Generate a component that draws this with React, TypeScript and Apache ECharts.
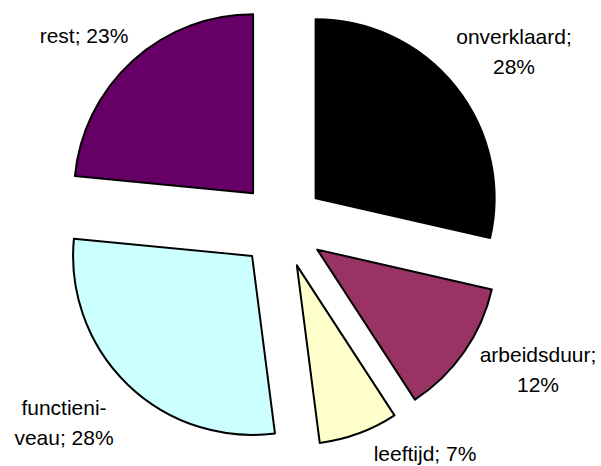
import React, { useEffect, useRef } from "react";
import * as echarts from "echarts";

// Data (clockwise from 12 o'clock)
const CATEGORIES = ["onverklaard", "arbeidsduur", "leeftijd", "functieniveau", "rest"];
const VALUES = [28, 12, 7, 28, 23];
const LABEL_NAMES = ["onverklaard", "arbeidsduur", "leeftijd", "functieni-\nveau", "rest"];
const LABEL_SEP = ["\n", "\n", " ", " ", " "];
const COLORS = ["#000000", "#993366", "#FFFFCC", "#CCFFFF", "#660066"];

// Label text-box centres (layout)
const LABEL_POS: [number, number][] = [
  [514, 51],
  [538, 369],
  [425, 453],
  [64, 422],
  [84, 35],
];

export default function App() {
  const ref = useRef<HTMLDivElement>(null);
  useEffect(() => {
    if (!ref.current) return;
    const chart = echarts.init(ref.current, undefined, { renderer: "svg" });
    chart.setOption({
      animation: false,
      backgroundColor: "#ffffff",
      graphic: CATEGORIES.map((_, i) => ({
        type: "text",
        x: LABEL_POS[i][0],
        y: LABEL_POS[i][1],
        silent: true,
        style: {
          text: `${LABEL_NAMES[i]};${LABEL_SEP[i]}${VALUES[i]}%`,
          align: "center",
          verticalAlign: "middle",
          fill: "#000000",
          fontFamily: "Liberation Sans, Arial, sans-serif",
          fontSize: 21,
          lineHeight: 30,
        },
      })),
      series: [
        {
          type: "pie",
          center: [282, 225],
          radius: 179,
          startAngle: 90,
          clockwise: true,
          selectedMode: "multiple",
          selectedOffset: 43,
          avoidLabelOverlap: false,
          emphasis: { disabled: true },
          itemStyle: { borderColor: "#000000", borderWidth: 2 },
          select: { itemStyle: { borderColor: "#000000", borderWidth: 2 } },
          labelLine: { show: false },
          label: { show: false },
          data: CATEGORIES.map((name, i) => ({
            name,
            value: VALUES[i],
            selected: true,
            itemStyle: { color: COLORS[i] },
            select: { itemStyle: { color: COLORS[i] } },
          })),
        },
      ],
    });
    return () => chart.dispose();
  }, []);
  return (
    <div
      ref={ref}
      style={{ position: "absolute", left: 0, top: 0, width: 601, height: 466 }}
    />
  );
}
